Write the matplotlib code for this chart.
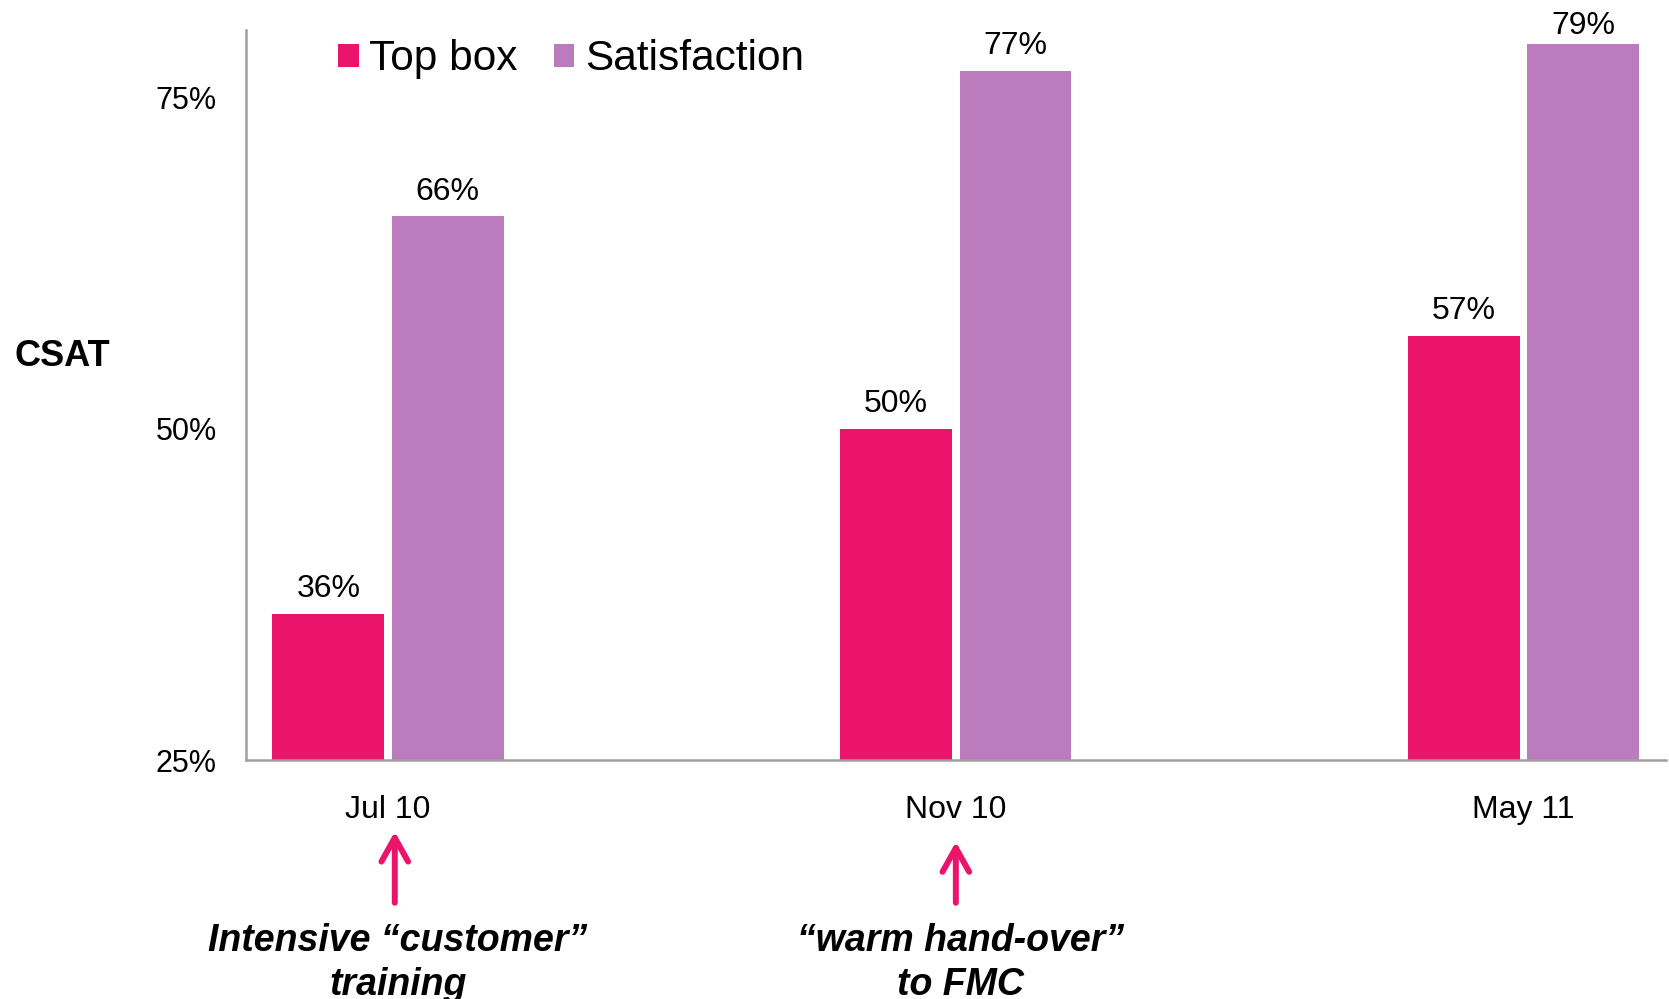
import matplotlib
matplotlib.use("Agg")
import matplotlib.pyplot as plt
import matplotlib.transforms as mtransforms
import numpy as np

plt.rcParams['font.family'] = ['Liberation Sans', 'DejaVu Sans']

categories = ["Jul 10", "Nov 10", "May 11"]
top_box = [36, 50, 57]
satisfaction = [66, 77, 79]
series_names = ["Top box", "Satisfaction"]
y_ticks = [25, 50, 75]
annotations = {0: "Intensive \u201ccustomer\u201d\ntraining", 1: "\u201cwarm hand-over\u201d\nto FMC"}

pink = '#EB146B'
purple = '#BA7CBD'
spine_gray = '#A0A0A0'

fig = plt.figure(figsize=(16.69, 9.99), dpi=100)
ax = fig.add_axes([0.1474, 0.2392, 0.8506, 0.7308])

x = np.arange(len(categories))
w = 0.197
off = 0.105
b1 = ax.bar(x - off, top_box, width=w, color=pink, label=series_names[0], bottom=0)
b2 = ax.bar(x + off, satisfaction, width=w, color=purple, label=series_names[1], bottom=0)

ax.set_ylim(25, 80.06)
ax.set_xlim(-0.25, 2.25)

for bars, vals in ((b1, top_box), (b2, satisfaction)):
    for rect, v in zip(bars, vals):
        dy = 7 if v < 78 else 2.5
        ax.annotate(f"{v}%", xy=(rect.get_x() + rect.get_width() / 2, v),
                    xytext=(0, dy), textcoords='offset points',
                    ha='center', va='bottom', fontsize=23, clip_on=False)

ax.set_yticks(y_ticks)
ax.set_yticklabels([f"{t}%" for t in y_ticks], fontsize=22)
ax.set_xticks(x)
ax.set_xticklabels(categories, fontsize=23)
ax.tick_params(axis='y', length=0, pad=21)
ax.tick_params(axis='x', length=0, pad=25)

for s in ('top', 'right'):
    ax.spines[s].set_visible(False)
for s in ('left', 'bottom'):
    ax.spines[s].set_color(spine_gray)
    ax.spines[s].set_linewidth(1.8)

leg = ax.legend(loc='center left', bbox_to_anchor=(0.065, 0.9596), frameon=False,
                fontsize=30.5, ncol=2, handlelength=0.48, handleheight=0.48,
                handletextpad=0.25, columnspacing=0.86, borderpad=0, borderaxespad=0)

fig.text(62 / 1669, 1 - 357 / 999, "CSAT", fontsize=26, fontweight='bold',
         ha='center', va='center')

trans = mtransforms.blended_transform_factory(ax.transData, ax.transAxes)
arrow_x = {0: 0.012, 1: 0.0}
text_x = {0: 0.017, 1: 0.008}
tips = {0: -0.098, 1: -0.112}
for i, txt in annotations.items():
    ax.annotate('', xy=(i + arrow_x[i], tips[i]), xytext=(i + arrow_x[i], -0.1955),
                xycoords=trans, textcoords=trans,
                arrowprops=dict(arrowstyle='->, head_length=0.86, head_width=0.48',
                                lw=4.3, color=pink, mutation_scale=20,
                                shrinkA=0, shrinkB=0),
                annotation_clip=False)
    ax.text(i + text_x[i], -0.278, txt, transform=trans, ha='center', va='center',
            fontsize=27, fontweight='bold', style='italic', linespacing=1.27,
            clip_on=False)

fig.savefig('out.png', dpi=100)
